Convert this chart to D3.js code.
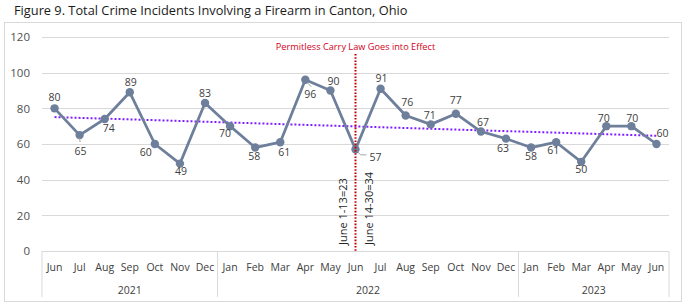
<!DOCTYPE html>
<html><head><meta charset="utf-8">
<script src="https://cdn.jsdelivr.net/npm/d3@7"></script>
<style>
html,body{margin:0;padding:0;background:#fff;}
svg{display:block;font-family:"Open Sans","Noto Sans",sans-serif;}
</style></head>
<body>
<svg id="chart" width="686" height="308"></svg>
<script>
// ---------- data ----------
const title = "Figure 9. Total Crime Incidents Involving a Firearm in Canton, Ohio";
const months = ["Jun","Jul","Aug","Sep","Oct","Nov","Dec",
  "Jan","Feb","Mar","Apr","May","Jun","Jul","Aug","Sep","Oct","Nov","Dec",
  "Jan","Feb","Mar","Apr","May","Jun"];
const incidents = [80,65,74,89,60,49,83,70,58,61,96,90,57,91,76,71,77,67,63,58,61,50,70,70,60];
const yearLabels = ["2021","2022","2023"];
const yearMonthCounts = [7,12,6];
const yTicks = [0,20,40,60,80,100,120];
const trendEnds = [75.1, 64.6];           // linear trend at first and last month
const lawIndex = 12;                       // June 2022
const lawLabel = "Permitless Carry Law Goes into Effect";
const splitLabels = ["June 1-13=23","June 14-30=34"];

// label placement offsets (style, px relative to the point)
const labelDx = [0,1,4,1,-9,1,0,-5,-1,4,5,3,20,1,1.5,-1,0,2,-3,0,-3,0,-2.5,1,6];
const labelDy = [-11,16,9,-10,8,8,-10,7,9,10,15,-9,8,-10,-13,-9,-13,-9.5,10,9,8,7.5,-8,-8,-11];

// ---------- layout ----------
const svg = d3.select("#chart");
const L = 42, R = 669, T = 37, B = 251;
const x = d3.scaleBand().domain(d3.range(months.length)).range([L, R]).padding(0);
const y = d3.scaleLinear().domain([0,120]).range([B, T]);
const cx = i => x(i) + x.bandwidth()/2;

// outer frame
svg.append("rect").attr("x",4.5).attr("y",22.5).attr("width",677).attr("height",279)
  .attr("fill","none").attr("stroke","#d9d9d9").attr("stroke-width",1);

// title
svg.append("text").attr("x",14).attr("y",14.5).attr("font-size",12.8).attr("fill","#1a1a1a")
  .text(title);

// gridlines
svg.append("g").selectAll("line").data(yTicks.filter(d=>d>0)).join("line")
  .attr("x1",L).attr("x2",R).attr("y1",d=>Math.round(y(d))+0.5).attr("y2",d=>Math.round(y(d))+0.5)
  .attr("stroke","#d9d9d9").attr("stroke-width",1);

// y axis labels
const yAxis = d3.axisLeft(y).tickValues(yTicks).tickSize(0).tickPadding(0);
const gy = svg.append("g").attr("transform",`translate(30,0)`).call(yAxis);
gy.select(".domain").remove();
gy.selectAll("text").attr("font-size",11.5).attr("fill","#505050")
  .attr("font-family","'Open Sans','Noto Sans',sans-serif");

// category axis box
const axisG = svg.append("g");
axisG.append("line").attr("x1",L).attr("x2",R).attr("y1",B+0.5).attr("y2",B+0.5)
  .attr("stroke","#d9d9d9");
let acc = 0;
const bounds = [0];
yearMonthCounts.forEach(c=>{acc+=c;bounds.push(acc);});
axisG.selectAll("line.sep").data(bounds).join("line").attr("class","sep")
  .attr("x1",d=> (d<months.length? x(d): R)).attr("x2",d=> (d<months.length? x(d): R))
  .attr("y1",B).attr("y2",297).attr("stroke","#d9d9d9");
axisG.selectAll("text.month").data(months).join("text").attr("class","month")
  .attr("x",(d,i)=>cx(i)).attr("y",267).attr("dy","0.35em").attr("text-anchor","middle")
  .attr("font-size",10.5).attr("fill","#404040").text(d=>d);
axisG.selectAll("text.year").data(yearLabels).join("text").attr("class","year")
  .attr("x",(d,i)=>{const a=x(bounds[i]); const b=bounds[i+1]<months.length?x(bounds[i+1]):R; return (a+b)/2;})
  .attr("y",290).attr("dy","0.35em").attr("text-anchor","middle")
  .attr("font-size",10.5).attr("fill","#404040").text(d=>d);

// trend line
svg.append("line").attr("x1",cx(0)).attr("y1",y(trendEnds[0]))
  .attr("x2",cx(months.length-1)).attr("y2",y(trendEnds[1]))
  .attr("stroke","#7f1fff").attr("stroke-width",2).attr("stroke-dasharray","2,2");

// series line
const lineColor = "#6e7f9b";
svg.append("path").datum(incidents)
  .attr("d", d3.line().x((d,i)=>cx(i)).y(d=>y(d)))
  .attr("fill","none").attr("stroke",lineColor).attr("stroke-width",2.75).attr("stroke-linejoin","round");
svg.append("g").selectAll("circle").data(incidents).join("circle")
  .attr("cx",(d,i)=>cx(i)).attr("cy",d=>y(d)).attr("r",4.2).attr("fill",lineColor);

// leader lines
const leaderColor = "#a6a6a6";
svg.append("path").attr("d",`M${cx(1)},${y(incidents[1])+3}L${cx(1)+0.5},${y(incidents[1])+7}`)
  .attr("stroke",leaderColor).attr("fill","none");
svg.append("path").attr("d",`M${cx(10)+2},${y(incidents[10])+3}L${cx(10)+6},${y(incidents[10])+7}`)
  .attr("stroke",leaderColor).attr("fill","none");
svg.append("path").attr("d",`M${cx(12)+2},${y(incidents[12])+2}L${cx(12)+5},${y(incidents[12])+5.5}L${cx(12)+11},${y(incidents[12])+5.5}`)
  .attr("stroke",leaderColor).attr("fill","none");

// law line
const lawX = cx(lawIndex);
svg.append("line").attr("x1",lawX).attr("x2",lawX).attr("y1",54).attr("y2",B)
  .attr("stroke","#c00000").attr("stroke-width",2).attr("stroke-dasharray","1.6,1.6");
svg.append("text").attr("x",lawX).attr("y",46.5).attr("dy","0.35em").attr("text-anchor","middle")
  .attr("font-size",9.2).attr("fill","#d0021b").text(lawLabel);

// split labels (rotated)
[[-12.5,0],[14,1]].forEach(([dx,k])=>{
  svg.append("text").attr("transform",`translate(${lawX+dx},245) rotate(-90)`)
    .attr("dy","0.35em").attr("text-anchor","start").attr("font-size",11)
    .attr("fill","#262626").text(splitLabels[k]);
});

// value labels
svg.append("g").selectAll("text").data(incidents).join("text")
  .attr("x",(d,i)=>cx(i)+labelDx[i]).attr("y",(d,i)=>y(d)+labelDy[i])
  .attr("dy","0.35em").attr("text-anchor","middle").attr("font-size",10.5)
  .attr("fill","#404040").text(d=>d);
</script>
</body></html>
